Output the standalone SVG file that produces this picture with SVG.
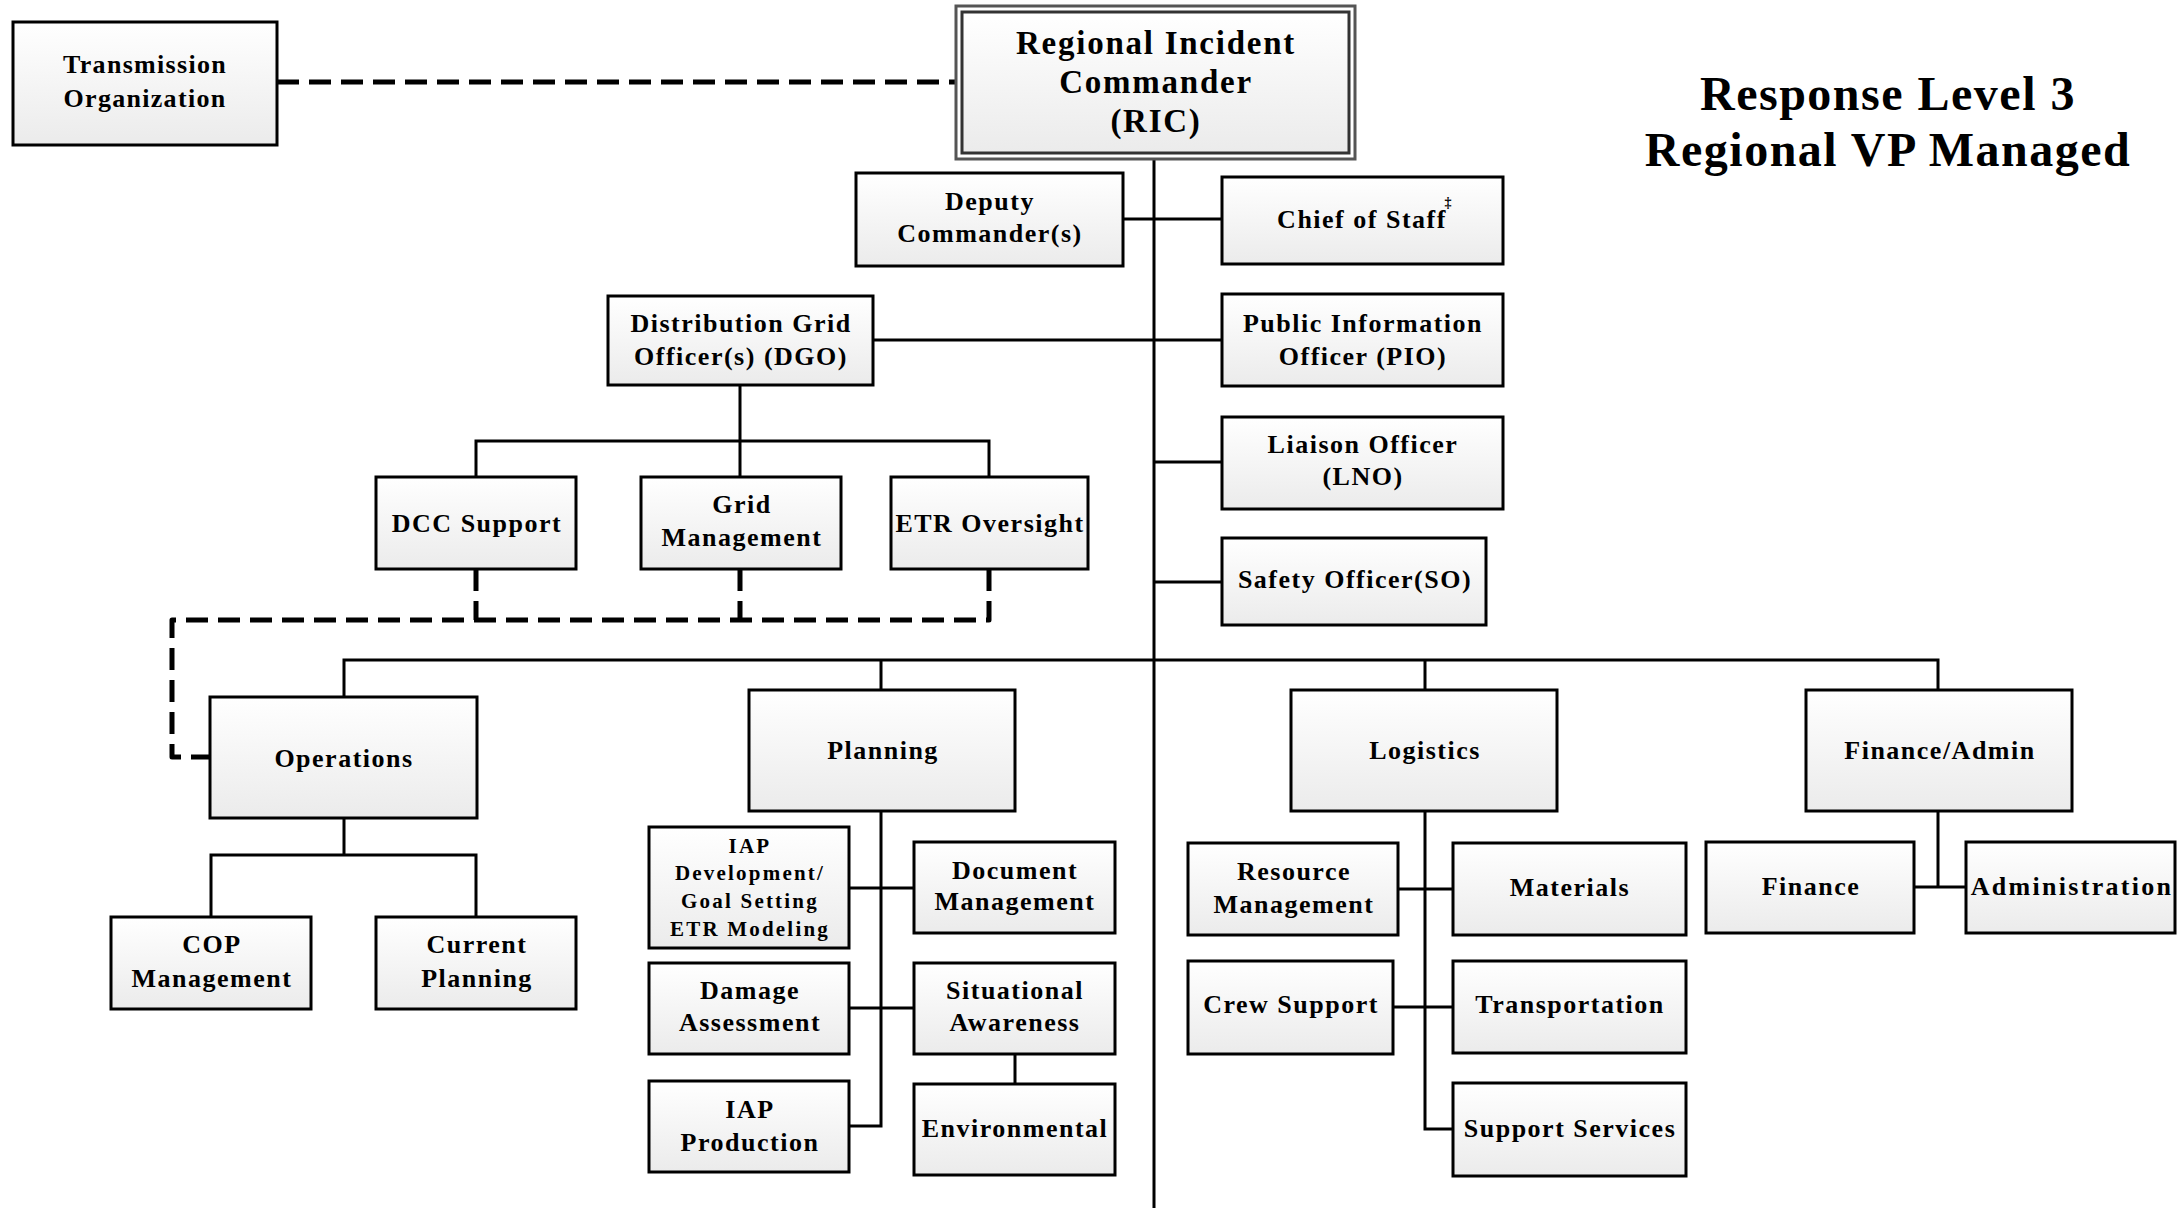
<svg xmlns="http://www.w3.org/2000/svg" width="2182" height="1208" viewBox="0 0 2182 1208">
<defs>
<linearGradient id="g" x1="0" y1="0" x2="0" y2="1">
<stop offset="0" stop-color="#ffffff"/>
<stop offset="1" stop-color="#ebebeb"/>
</linearGradient>
<style>
.box{fill:url(#g);stroke:#000;stroke-width:3}
.t{font-family:"Liberation Serif","Times New Roman",serif;font-weight:bold;font-size:26px;letter-spacing:1.5px;text-anchor:middle;fill:#000}
.sm{font-size:21px;letter-spacing:2.2px}
.big{font-size:33px;letter-spacing:1.75px}
.title{font-size:48px;letter-spacing:1.5px}
.ln{stroke:#000;stroke-width:3;fill:none}
.dash{stroke:#000;stroke-width:5;fill:none;stroke-dasharray:22 10;stroke-linejoin:round}
</style>
</defs>
<rect width="2182" height="1208" fill="#fff"/>
<g id="connectors">
<path class="dash" d="M277,82 H956"/>
<path class="dash" d="M989,569 V620 H172 V757 H210"/>
<path class="dash" d="M476,569 V620"/>
<path class="dash" d="M740,569 V620"/>
<path class="ln" d="M1154,159 V1208"/>
<path class="ln" d="M1123,219 H1222"/>
<path class="ln" d="M873,340 H1222"/>
<path class="ln" d="M1154,462 H1222"/>
<path class="ln" d="M1154,582 H1222"/>
<path class="ln" d="M740,385 V441 M476,477 V441 H989 V477 M740,441 V477"/>
<path class="ln" d="M344,697 V660 H1938 V690 M881,660 V690 M1425,660 V690"/>
<path class="ln" d="M344,818 V855 M211,917 V855 H476 V917"/>
<path class="ln" d="M881,811 V1126 H849 M849,888 H914 M849,1008 H914 M1015,1054 V1084"/>
<path class="ln" d="M1425,811 V1129 H1453 M1398,889 H1453 M1393,1007 H1453"/>
<path class="ln" d="M1938,811 V887 M1914,887 H1966"/>
</g>
<g id="transmission"><rect class="box" x="13" y="22" width="264" height="123"/><text class="t" style="letter-spacing:1.3px" x="145" y="73">Transmission</text><text class="t" style="letter-spacing:1.3px" x="145" y="107">Organization</text></g>
<g id="ric"><rect x="956" y="6" width="399" height="153" fill="#fff" stroke="#555" stroke-width="3"/><rect x="962" y="12" width="387" height="141" fill="url(#g)" stroke="#333" stroke-width="3"/><text class="t big" x="1156" y="54">Regional Incident</text><text class="t big" x="1156" y="93">Commander</text><text class="t big" x="1156" y="132">(RIC)</text></g>
<g id="title"><text class="t title" x="1888" y="110">Response Level 3</text><text class="t title" x="1888" y="166">Regional VP Managed</text></g>
<g id="deputy"><rect class="box" x="856" y="173" width="267" height="93"/><text class="t" x="990" y="210">Deputy</text><text class="t" x="990" y="242">Commander(s)</text></g>
<g id="chief"><rect class="box" x="1222" y="177" width="281" height="87"/><text class="t" x="1362" y="228">Chief of Staff</text><text class="t" style="font-size:14px;letter-spacing:0" x="1448" y="207">‡</text></g>
<g id="dgo"><rect class="box" x="608" y="296" width="265" height="89"/><text class="t" x="741" y="332">Distribution Grid</text><text class="t" x="741" y="365">Officer(s) (DGO)</text></g>
<g id="pio"><rect class="box" x="1222" y="294" width="281" height="92"/><text class="t" x="1363" y="332">Public Information</text><text class="t" x="1363" y="365">Officer (PIO)</text></g>
<g id="lno"><rect class="box" x="1222" y="417" width="281" height="92"/><text class="t" x="1363" y="453">Liaison Officer</text><text class="t" x="1363" y="485">(LNO)</text></g>
<g id="so"><rect class="box" x="1222" y="538" width="264" height="87"/><text class="t" x="1355" y="588">Safety Officer(SO)</text></g>
<g id="dcc"><rect class="box" x="376" y="477" width="200" height="92"/><text class="t" x="477" y="532">DCC Support</text></g>
<g id="grid"><rect class="box" x="641" y="477" width="200" height="92"/><text class="t" x="742" y="513">Grid</text><text class="t" x="742" y="546">Management</text></g>
<g id="etr"><rect class="box" x="891" y="477" width="197" height="92"/><text class="t" x="990" y="532">ETR Oversight</text></g>
<g id="operations"><rect class="box" x="210" y="697" width="267" height="121"/><text class="t" x="344" y="767">Operations</text></g>
<g id="planning"><rect class="box" x="749" y="690" width="266" height="121"/><text class="t" x="883" y="759">Planning</text></g>
<g id="logistics"><rect class="box" x="1291" y="690" width="266" height="121"/><text class="t" x="1425" y="759">Logistics</text></g>
<g id="finance-admin"><rect class="box" x="1806" y="690" width="266" height="121"/><text class="t" x="1940" y="759">Finance/Admin</text></g>
<g id="cop"><rect class="box" x="111" y="917" width="200" height="92"/><text class="t" x="212" y="953">COP</text><text class="t" x="212" y="987">Management</text></g>
<g id="current-planning"><rect class="box" x="376" y="917" width="200" height="92"/><text class="t" x="477" y="953">Current</text><text class="t" x="477" y="987">Planning</text></g>
<g id="iap-dev"><rect class="box" x="649" y="827" width="200" height="121"/><text class="t sm" x="750" y="853">IAP</text><text class="t sm" x="750" y="880">Development/</text><text class="t sm" x="750" y="908">Goal Setting</text><text class="t sm" x="750" y="936">ETR Modeling</text></g>
<g id="doc-mgmt"><rect class="box" x="914" y="842" width="201" height="91"/><text class="t" x="1015" y="879">Document</text><text class="t" x="1015" y="910">Management</text></g>
<g id="damage"><rect class="box" x="649" y="963" width="200" height="91"/><text class="t" x="750" y="999">Damage</text><text class="t" x="750" y="1031">Assessment</text></g>
<g id="situational"><rect class="box" x="914" y="963" width="201" height="91"/><text class="t" x="1015" y="999">Situational</text><text class="t" x="1015" y="1031">Awareness</text></g>
<g id="iap-prod"><rect class="box" x="649" y="1081" width="200" height="91"/><text class="t" x="750" y="1118">IAP</text><text class="t" x="750" y="1151">Production</text></g>
<g id="environmental"><rect class="box" x="914" y="1084" width="201" height="91"/><text class="t" x="1015" y="1137">Environmental</text></g>
<g id="resource-mgmt"><rect class="box" x="1188" y="843" width="210" height="92"/><text class="t" x="1294" y="880">Resource</text><text class="t" x="1294" y="913">Management</text></g>
<g id="materials"><rect class="box" x="1453" y="843" width="233" height="92"/><text class="t" x="1570" y="896">Materials</text></g>
<g id="crew-support"><rect class="box" x="1188" y="961" width="205" height="93"/><text class="t" x="1291" y="1013">Crew Support</text></g>
<g id="transportation"><rect class="box" x="1453" y="961" width="233" height="92"/><text class="t" x="1570" y="1013">Transportation</text></g>
<g id="support-services"><rect class="box" x="1453" y="1083" width="233" height="93"/><text class="t" x="1570" y="1137">Support Services</text></g>
<g id="finance"><rect class="box" x="1706" y="842" width="208" height="91"/><text class="t" x="1811" y="895">Finance</text></g>
<g id="administration"><rect class="box" x="1966" y="842" width="209" height="91"/><text class="t" style="letter-spacing:2.3px" x="2072" y="895">Administration</text></g>
</svg>
